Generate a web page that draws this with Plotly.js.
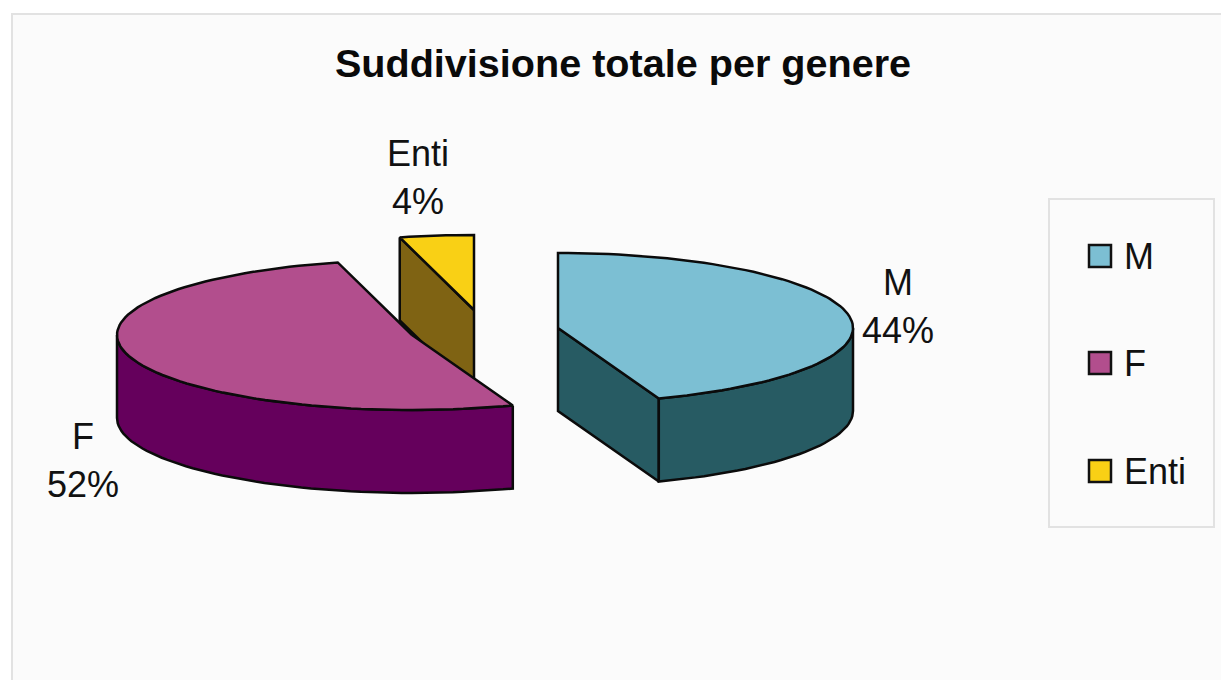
<!DOCTYPE html>
<html>
<head>
<meta charset="utf-8">
<script src="https://cdn.plot.ly/plotly-3.0.1.min.js"></script>
<style>html,body{margin:0;padding:0;background:#fff;overflow:hidden}#chart{width:1221px;height:680px}</style>
</head>
<body>
<div id="chart"></div>
<script>
// Data (labels show these rounded: 44%, 52%, 4%)
const categories = ['M', 'F', 'Enti'];
const values = [44.45, 51.5, 4.05];
const titleText = 'Suddivisione totale per genere';

// Styles
const topColors  = ['#7cbfd3', '#b24e8d', '#f9d015'];
const sideColors = ['#275b63', '#65005c', '#7f6313'];
const FONT = '"Liberation Sans", Arial, sans-serif';

// 3D pie projection (pixels on the hidden axes)
const RX = 295, RY = 75, DEPTH = 83;
const centres = [[558, 328], [412, 335], [474, 310]];

// Slice angles derive from the values, clockwise from 12 o'clock
const total = values.reduce((a, b) => a + b, 0);
let run = 0;
const angles = values.map(v => { const s = run; run += v / total * 360; return [s, run]; });
const rim = (c, deg, dz = 0) => {
  const r = deg * Math.PI / 180;
  return [c[0] + RX * Math.sin(r), c[1] - RY * Math.cos(r) + dz];
};
const arc = (c, a, b, dz = 0) => {
  const pts = [], n = Math.max(2, Math.ceil(Math.abs(b - a) / 2));
  for (let i = 0; i <= n; i++) pts.push(rim(c, a + (b - a) * i / n, dz));
  return pts;
};
const poly = (pts, fill) => ({
  type: 'scatter', mode: 'lines', fill: 'toself', fillcolor: fill,
  x: pts.map(p => p[0]), y: pts.map(p => p[1]),
  line: {color: '#0b0b0b', width: 2.5}, showlegend: false, hoverinfo: 'skip'
});

const traces = [];
const drawOrder = [2, 1, 0];
drawOrder.forEach(i => {
  const c = centres[i], [a, b] = angles[i];
  const down = [c[0], c[1] + DEPTH];
  // visible cut faces
  if (i === 0) traces.push(poly([c, rim(c, b), rim(c, b, DEPTH), down, c], sideColors[i]));
  if (i === 2) traces.push(poly([c, rim(c, a), rim(c, a, DEPTH), down, c], sideColors[i]));
  // outer wall: only the front half of the rim (90deg to 270deg) shows
  const from = Math.max(a, 90), to = Math.min(b, 270);
  if (to > from) {
    const front = arc(c, from, to), lower = arc(c, to, from, DEPTH);
    traces.push(poly(front.concat(lower, [front[0]]), sideColors[i]));
  }
  // top face
  traces.push(poly([c].concat(arc(c, a, b), [c]), topColors[i]));
});

// Legend swatches
const legendX = 1100, legendY = [256, 363, 471];
categories.forEach((name, i) => traces.push({
  type: 'scatter', mode: 'markers', name, x: [legendX], y: [legendY[i]],
  marker: {symbol: 'square', size: 22, color: topColors[i], line: {color: '#111', width: 2.5}},
  showlegend: false, hovertemplate: name + ': ' + Math.round(values[i]) + '%<extra></extra>'
}));

const txt = (text, x, y, anchor = 'center') => ({
  text, x, y, xref: 'x', yref: 'y', showarrow: false, xanchor: anchor, yanchor: 'middle',
  font: {family: FONT, size: 36, color: '#111'}
});
const labelPos = [[898, 282, 330], [83, 436, 484], [418, 153, 201]];
const annotations = [];
categories.forEach((name, i) => {
  annotations.push(txt(name, labelPos[i][0], labelPos[i][1]));
  annotations.push(txt(Math.round(values[i]) + '%', labelPos[i][0], labelPos[i][2]));
  annotations.push(txt(name, 1122, legendY[i], 'left'));
});

const layout = {
  width: 1221, height: 680,
  margin: {l: 0, r: 0, t: 0, b: 0},
  paper_bgcolor: '#ffffff', plot_bgcolor: '#ffffff',
  showlegend: false,
  title: {text: '<b>' + titleText + '</b>', x: 623 / 1221, y: 1 - 63 / 680, xanchor: 'center', yanchor: 'middle',
          font: {family: FONT, size: 39.6, color: '#0a0a0a'}},
  xaxis: {range: [0, 1221], visible: false, fixedrange: true},
  yaxis: {range: [680, 0], visible: false, fixedrange: true},
  shapes: [
    {type: 'rect', xref: 'x', yref: 'y', x0: 12, y0: 14, x1: 1260, y1: 720, layer: 'below',
     fillcolor: '#fbfbfb', line: {color: '#e2e2e2', width: 2}},
    {type: 'rect', xref: 'x', yref: 'y', x0: 1049, y0: 199, x1: 1214, y1: 527, layer: 'below',
     fillcolor: 'rgba(0,0,0,0)', line: {color: '#e2e2e2', width: 2}}
  ],
  annotations
};
Plotly.newPlot('chart', traces, layout, {displayModeBar: false, responsive: false});
</script>
</body>
</html>
